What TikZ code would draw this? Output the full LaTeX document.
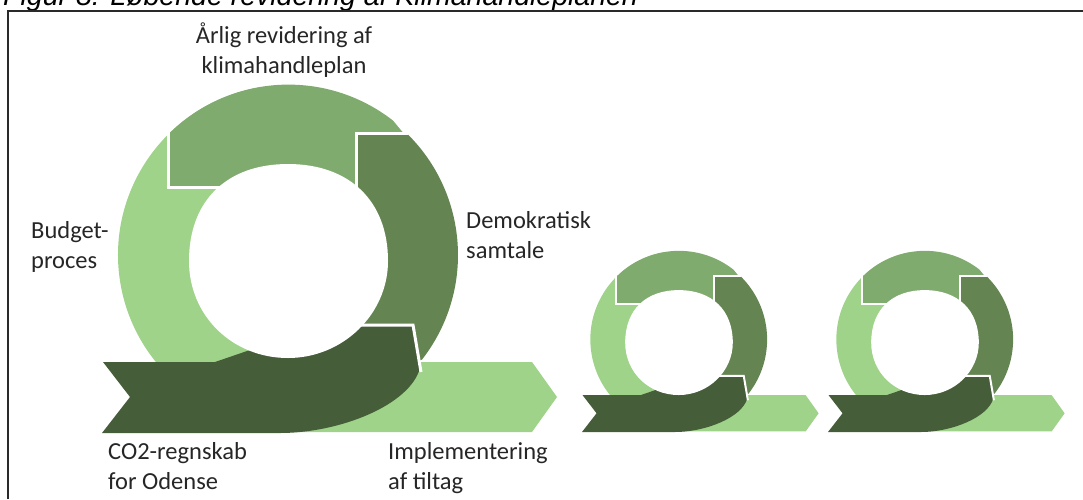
\documentclass[tikz,border=0pt]{standalone}
\usepackage{fontspec}
\setmainfont{Carlito}
\newfontfamily\titlefont{Liberation Sans}
\definecolor{lgreen}{HTML}{9FD389}
\definecolor{mgreen}{HTML}{80AB6E}
\definecolor{rgreen}{HTML}{648552}
\definecolor{dgreen}{HTML}{465D39}
\definecolor{txt}{HTML}{262626}
\definecolor{framec}{HTML}{2A2A2A}
\tikzset{
  lbl/.style={font=\fontsize{24.5}{30}\selectfont, text=txt, inner sep=0pt},
  gap/.style={draw=white, line width=#1, line cap=butt},
}
% #1 = width of the white separating lines, #2 = scale of the inner opening
\newcommand\cycleloop[2]{%
  % light green left arc
  \fill[lgreen] (288,255) -- (258.5,87.6) arc[start angle=-100, end angle=-265, radius=170] -- cycle;
  % light green forward arrow
  \fill[lgreen] (250,362) -- (532,362) -- (557,397) -- (532,432) -- (250,432) -- cycle;
  % top segment
  \fill[mgreen] (168,134.6) arc[start angle=-135.1, end angle=-52, radius=170] -- (405,135) -- (370,215) -- (240,187) -- (168,187) -- cycle;
  \draw[gap=#1] (168,132) -- (168,187) -- (240,187);
  % right segment
  \fill[rgreen] (356,133) -- (406.4,133) arc[start angle=-45.85, end angle=38, radius=170] -- (395,370) -- (330,330) -- (356,250) -- cycle;
  \draw[gap=#1] (408,133) -- (356,133) -- (356,250);
  % dark arrow
  \fill[dgreen] (413,325) -- (362,325) -- (340,335) -- (250,350) -- (215,362) -- (103,362) -- (130,397) -- (102,433) -- (280,433) .. controls (340,433) and (410,405) .. (420,368) -- cycle;
  \draw[gap=#1] (340,325) -- (413,325) -- (421,372);
  % inner opening
  \begin{scope}[shift={(288,261)}, scale=#2, shift={(-288,-261)}]
    \fill[white] (388,261) .. controls (388,200.8) and (349.4,164) .. (288,164) .. controls (226.6,164) and (189,200.8) .. (189,261) .. controls (189,316) and (232.6,358) .. (288,358) .. controls (343,358) and (388,314) .. (388,261) -- cycle;
  \end{scope}
}
\begin{document}
\begin{tikzpicture}[x=1pt,y=1pt,yscale=-1]
  \useasboundingbox (0,0) rectangle (1083,499);
  % title (cut by the page edge) and frame
  \node[anchor=base west, inner sep=0pt, font=\titlefont\itshape\fontsize{28.5}{30}\selectfont] (title) at (3,5) {Figur 8: Løbende revidering af Klimahandleplanen};
  \draw[framec, line width=2pt] (7.5,499) -- (7.5,11) -- (1083,11);
  % big loop
  \begin{scope}
    \cycleloop{3}{1}
  \end{scope}
  % small loops
  \begin{scope}[shift={(582,432)}, scale=0.52, shift={(-102,-433)}]
    \cycleloop{2}{1.04}
  \end{scope}
  \begin{scope}[shift={(828,432)}, scale=0.52, shift={(-102,-433)}]
    \cycleloop{2}{1.04}
  \end{scope}
  % labels
  \node[lbl, anchor=base] (rev1) at (284,43.5) {Årlig revidering af};
  \node[lbl, anchor=base] (rev2) at (284,73.5) {klimahandleplan};
  \node[lbl, anchor=base west] (bud1) at (31,238) {Budget-};
  \node[lbl, anchor=base west] (bud2) at (31,268) {proces};
  \node[lbl, anchor=base west] (dem1) at (466,228) {Demokratisk};
  \node[lbl, anchor=base west] (dem2) at (466,258) {samtale};
  \node[lbl, anchor=base west] (co1) at (108,459) {CO2-regnskab};
  \node[lbl, anchor=base west] (co2) at (108,489) {for Odense};
  \node[lbl, anchor=base west] (imp1) at (388,459) {Implementering};
  \node[lbl, anchor=base west] (imp2) at (388,489) {af tiltag};
\end{tikzpicture}
\end{document}
